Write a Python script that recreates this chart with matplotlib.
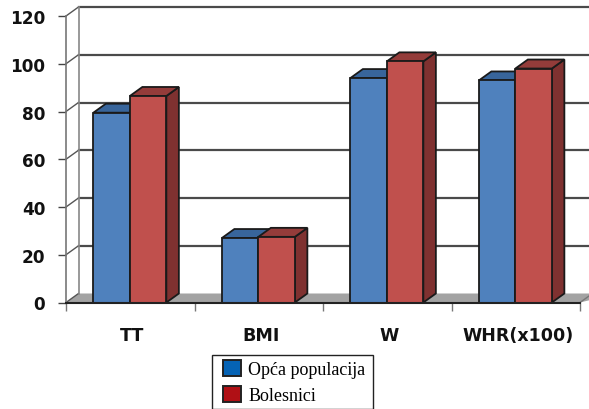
import matplotlib
matplotlib.use("Agg")
import matplotlib.pyplot as plt
from matplotlib.patches import Polygon, Patch, Rectangle

categories = ["TT", "BMI", "W", "WHR(x100)"]
general = [79.5, 27, 94, 93]
patients = [86.5, 27.5, 101, 98]
series_names = ["Opća populacija", "Bolesnici"]
y_ticks = [0, 20, 40, 60, 80, 100, 120]

fig = plt.figure(figsize=(5.89, 4.10), dpi=100)
fig.patch.set_facecolor("white")

# axes box = front plane of the fake 3d chart
W, H = 589.0, 410.0
ax = fig.add_axes([66 / W, 1 - 303.5 / H, (580 - 66) / W, 286.5 / H])
ax.set_xlim(0, 4)
ax.set_ylim(0, 120)
ax.patch.set_alpha(0)
for s in ax.spines.values():
    s.set_visible(False)

# depth of the chart in data units
dx = 12.5 / (514 / 4)
dy = 9 / (286.5 / 120)
edge = "#1a1a1a"


def box(x0, x1, val, front, top, side, z):
    ax.add_patch(Polygon([(x1, 0), (x1 + dx, dy), (x1 + dx, val + dy), (x1, val)],
                         fc=side, ec=edge, lw=1.3, zorder=z, clip_on=False))
    ax.add_patch(Polygon([(x0, val), (x0 + dx, val + dy), (x1 + dx, val + dy), (x1, val)],
                         fc=top, ec=edge, lw=1.3, zorder=z, clip_on=False))
    ax.add_patch(Polygon([(x0, 0), (x0, val), (x1, val), (x1, 0)],
                         fc=front, ec=edge, lw=1.3, zorder=z + 0.1, clip_on=False))


# floor
ax.add_patch(Polygon([(0, 0), (dx, dy), (4 + 3 * dx, dy), (4, 0)], fc="#a3a3a3", ec="none",
                     zorder=1, clip_on=False))
ax.plot([0, 4], [0, 0], color="#222222", lw=1.5, zorder=8, clip_on=False)
ax.plot([4, 4 + dx], [0, dy], color="#777777", lw=1.0, zorder=2, clip_on=False)

# back wall lines and left wall
for t in y_ticks:
    if t > 0:
        ax.plot([dx, 4 + 3 * dx], [t + dy, t + dy], color="#4a4a4a", lw=1.6, zorder=2, clip_on=False)
    ax.plot([0, dx], [t, t + dy], color="#555555", lw=1.0, zorder=2, clip_on=False)
ax.plot([0, 0], [0, 120], color="#777777", lw=1.2, zorder=2, clip_on=False)
ax.plot([dx, dx], [dy, 120 + dy], color="#888888", lw=1.2, zorder=2, clip_on=False)

bar_w = 36.5 / (514 / 4)
for i in range(len(categories)):
    mid = i + 0.497
    box(mid - bar_w, mid, general[i], "#4f81bd", "#38659b", "#38659b", 3 + i)
    box(mid, mid + bar_w, patients[i], "#c0504d", "#943c3a", "#7f3130", 3.5 + i)

ax.set_yticks(y_ticks)
ax.set_yticklabels([str(t) for t in y_ticks], family="DejaVu Sans", fontweight="bold",
                   fontsize=12.2, color="#111111")
ax.set_xticks(range(5))
ax.set_xticklabels([""] * 5)
ax.tick_params(axis="y", length=6, width=1.0, color="#444444", pad=9)
ax.tick_params(axis="x", length=6, width=1.0, color="#777777")
for i, c in enumerate(categories):
    ax.annotate(c, (i + 0.5, 0), xytext=(2, -33), textcoords="offset pixels", ha="center", va="center",
                family="DejaVu Sans", fontweight="bold", fontsize=12.6, color="#111111")

# legend frame is separate, the padding is wider than tall
fig.add_artist(Rectangle((212 / W, 1 - 409.5 / H), 161 / W, 53.5 / H, transform=fig.transFigure,
                         fc="white", ec="#222222", lw=1.0))
handles = [Patch(fc="#0563b5", ec="#222222", lw=1.4), Patch(fc="#b01015", ec="#222222", lw=1.4)]
leg = fig.legend(handles, series_names, loc="upper left", bbox_to_anchor=(223 / W, 1 - 361 / H),
                 borderaxespad=0, prop={"family": "Liberation Serif", "size": 13},
                 handlelength=1.0, handleheight=1.0, handletextpad=0.4, labelspacing=0.42,
                 borderpad=0, frameon=False)

fig.savefig("out.png", dpi=100)
